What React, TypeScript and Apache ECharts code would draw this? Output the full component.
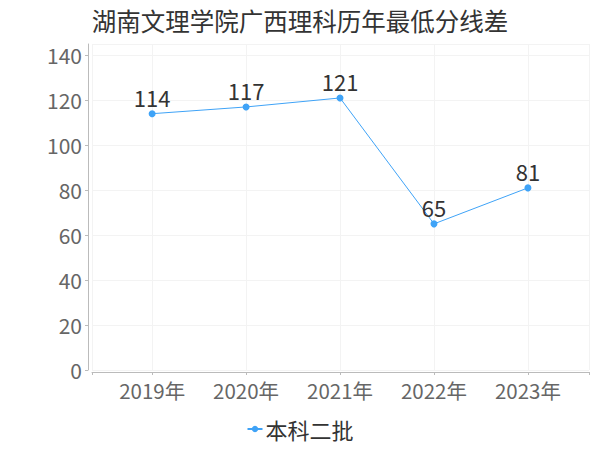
import React, { useEffect, useRef } from "react";
import * as echarts from "echarts";

const title = "湖南文理学院广西理科历年最低分线差";
const categories = ["2019年", "2020年", "2021年", "2022年", "2023年"];
const seriesName = "本科二批";
const values = [114, 117, 121, 65, 81];
const yTicks = [0, 20, 40, 60, 80, 100, 120, 140];

const X_MIN = -0.64;
const X_MAX = 4.65;
const FONT = "Noto Sans CJK SC, sans-serif";

export default function App() {
  const ref = useRef<HTMLDivElement>(null);
  useEffect(() => {
    document.body.style.margin = "0";
    if (!ref.current) return;
    const chart = echarts.init(ref.current, null, { renderer: "svg" });
    const color = "#3fa3f7";
    const idx = categories.map((_, i) => i);
    chart.setOption({
      animation: false,
      title: {
        text: title,
        left: "center",
        top: 3,
        textStyle: { fontSize: 24.5, fontWeight: "normal", color: "#333", fontFamily: FONT },
      },
      grid: { left: 92, right: 11, top: 44, bottom: 80 },
      legend: {
        bottom: 5,
        left: "center",
        itemWidth: 15,
        itemHeight: 8,
        itemGap: 10,
        textStyle: { fontSize: 22, color: "#333", fontFamily: FONT, padding: [0, 0, 0, -2] },
        data: [seriesName],
      },
      xAxis: {
        type: "value",
        min: X_MIN,
        max: X_MAX,
        offset: 2,
        axisLine: { show: true, onZero: false, lineStyle: { color: "#bbb" } },
        axisTick: { show: true, length: 3, lineStyle: { color: "#bbb" }, customValues: [X_MIN, ...idx, X_MAX] },
        splitLine: { show: true, lineStyle: { color: "#f3f3f3" } },
        axisLabel: {
          fontSize: 20.5,
          color: "#666",
          margin: 8,
          fontFamily: FONT,
          customValues: idx,
          formatter: (v: number) => categories[Math.round(v)] ?? "",
        },
      },
      yAxis: {
        type: "value",
        min: yTicks[0],
        max: 145,
        interval: 20,
        offset: 4,
        axisLine: { show: true, onZero: false, lineStyle: { color: "#bbb" } },
        axisTick: { show: true, length: 3, lineStyle: { color: "#bbb" } },
        splitLine: { show: true, lineStyle: { color: "#f3f3f3" } },
        axisLabel: { fontSize: 21, color: "#666", margin: 6, showMaxLabel: false, fontFamily: FONT },
      },
      series: [
        {
          name: seriesName,
          type: "line",
          data: categories.map((_, i) => [i, values[i]]),
          symbol: "circle",
          symbolSize: 7,
          itemStyle: { color },
          lineStyle: { color, width: 1 },
          label: {
            show: true,
            position: "top",
            distance: 2,
            fontSize: 22,
            color: "#333",
            fontFamily: FONT,
            formatter: (p: any) => String(p.value[1]),
          },
        },
      ],
    });
    return () => chart.dispose();
  }, []);
  return <div ref={ref} style={{ width: 600, height: 450 }} />;
}
